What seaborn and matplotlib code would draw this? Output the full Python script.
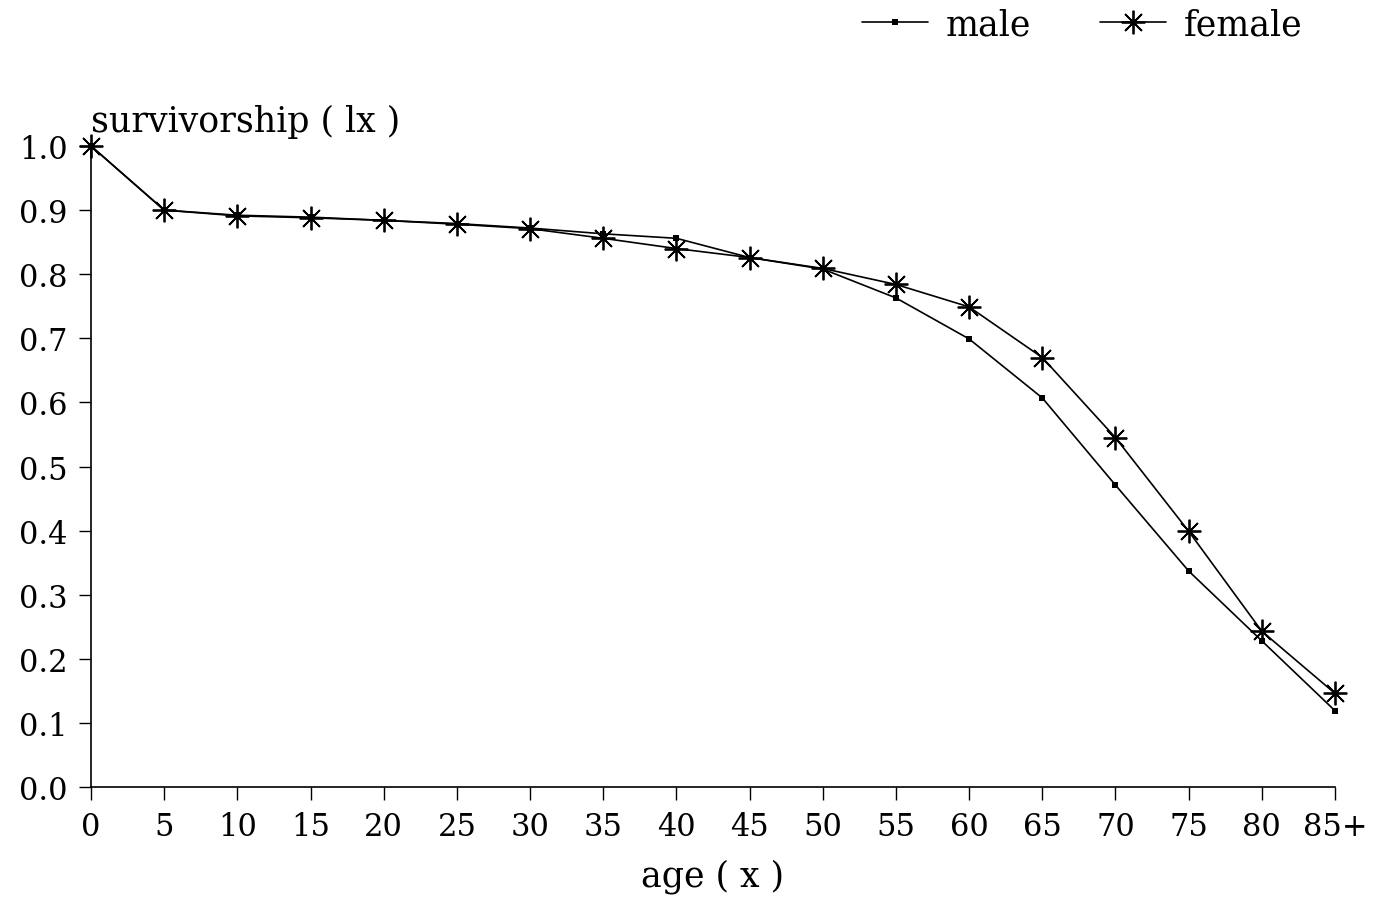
import matplotlib
matplotlib.use("Agg")
import matplotlib.pyplot as plt
import seaborn as sns
from matplotlib.lines import Line2D

# ---- data ----
ages = [0, 5, 10, 15, 20, 25, 30, 35, 40, 45, 50, 55, 60, 65, 70, 75, 80, 85]
age_labels = ["0", "5", "10", "15", "20", "25", "30", "35", "40", "45",
              "50", "55", "60", "65", "70", "75", "80", "85+"]
male_lx = [1.000, 0.900, 0.892, 0.889, 0.884, 0.879, 0.872, 0.863, 0.856, 0.826,
           0.808, 0.763, 0.699, 0.607, 0.471, 0.337, 0.228, 0.119]
female_lx = [1.000, 0.900, 0.891, 0.888, 0.884, 0.878, 0.871, 0.856, 0.840, 0.826,
             0.809, 0.784, 0.749, 0.670, 0.545, 0.399, 0.243, 0.146]
y_ticks = [0.0, 0.1, 0.2, 0.3, 0.4, 0.5, 0.6, 0.7, 0.8, 0.9, 1.0]

sns.set_style("ticks")
plt.rcParams["font.family"] = ["DejaVu Serif"]
plt.rcParams["text.color"] = "black"
plt.rcParams["axes.labelcolor"] = "black"

fig = plt.figure(figsize=(13.75, 9.04), dpi=100)
ax = fig.add_axes([91 / 1375, 1 - 788 / 904, (1335 - 91) / 1375, (788 - 147) / 904])

asterisk = (8, 2, 0)
sns.lineplot(x=ages, y=male_lx, color="black", linewidth=1.2, marker="s",
             markersize=4.5, markeredgewidth=0, markerfacecolor="black",
             ax=ax, label="male", legend=False, clip_on=False, zorder=3)
sns.lineplot(x=ages, y=female_lx, color="black", linewidth=1.2, marker=asterisk,
             markersize=17, markeredgewidth=1.3, markeredgecolor="black",
             ax=ax, label="female", legend=False, clip_on=False, zorder=3)

ax.set_xlim(0, 85)
ax.set_ylim(0, 1.0)
ax.set_xticks(ages)
ax.set_xticklabels(age_labels)
ax.set_yticks(y_ticks)
ax.set_yticklabels([f"{v:.1f}" for v in y_ticks])

sns.despine(ax=ax)
for s in ["left", "bottom"]:
    ax.spines[s].set_linewidth(1.2)
    ax.spines[s].set_color("black")

ax.tick_params(axis="both", direction="out", length=9, width=1.0,
               colors="black", labelsize=22, pad=8)

ax.set_xlabel("age ( x )", fontsize=25, labelpad=12)
ax.set_ylabel("survivorship ( lx )", fontsize=25, rotation=0,
              ha="left", va="bottom")
ax.yaxis.set_label_coords(0.0, 1.012)

handles = [
    Line2D([], [], color="black", lw=1.2, marker="s", markersize=4.5,
           markeredgewidth=0, markerfacecolor="black"),
    Line2D([], [], color="black", lw=1.2, marker=asterisk, markersize=17,
           markeredgewidth=1.3, markeredgecolor="black"),
]
fig.legend(handles, ["male", "female"], loc="center left",
           bbox_to_anchor=(862 / 1375, 1 - 25 / 904), ncol=2, frameon=False,
           fontsize=25, handlelength=1.9, handletextpad=0.5,
           columnspacing=2.0, borderpad=0, borderaxespad=0)

fig.savefig("out.png", dpi=100, facecolor="white")
